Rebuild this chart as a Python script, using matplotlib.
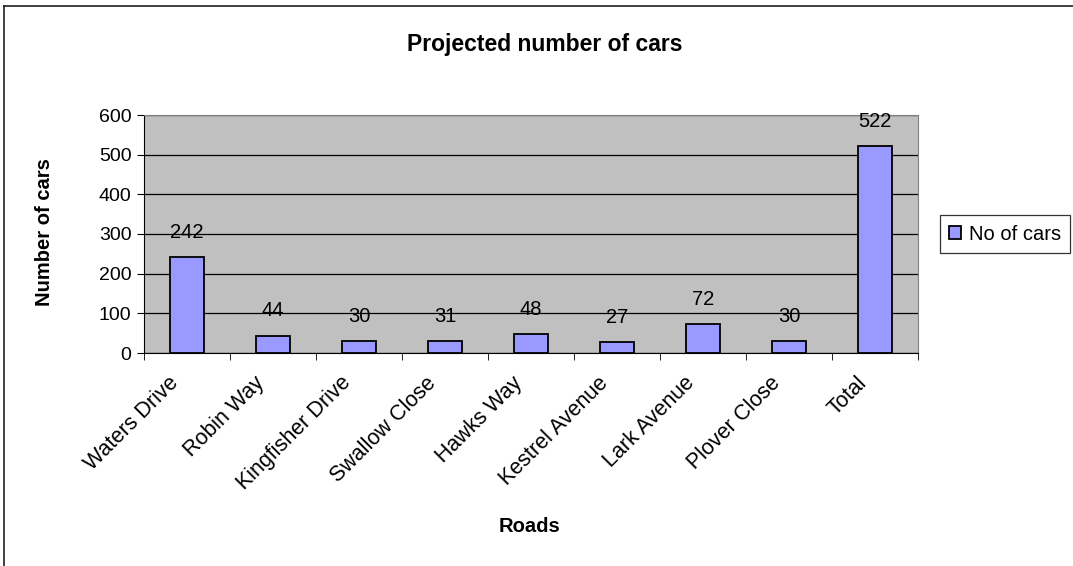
import matplotlib.pyplot as plt
import matplotlib.transforms as mtransforms
import numpy as np

plt.rcParams['font.family'] = ['Liberation Sans', 'DejaVu Sans']

roads = ['Waters Drive', 'Robin Way', 'Kingfisher Drive', 'Swallow Close',
         'Hawks Way', 'Kestrel Avenue', 'Lark Avenue', 'Plover Close', 'Total']
cars = [242, 44, 30, 31, 48, 27, 72, 30, 522]
yticks = [0, 100, 200, 300, 400, 500, 600]

W, H = 1073, 566
fig = plt.figure(figsize=(W / 100, H / 100), dpi=100)
ax = fig.add_axes([144 / W, 1 - 353 / H, 774 / W, 238 / H])

x = np.arange(len(roads))
ax.bar(x, cars, width=0.4, color='#9999FF', edgecolor='black',
       linewidth=1.3, label='No of cars', zorder=3)
for xi, v in zip(x, cars):
    ax.text(xi, v + 38, str(v), ha='center', va='bottom', fontsize=14.5, zorder=4)

ax.set_facecolor('#C0C0C0')
ax.set_xlim(-0.5, len(roads) - 0.5)
ax.set_ylim(0, 600)
ax.set_yticks(yticks)
ax.tick_params(axis='y', labelsize=14, length=5, direction='out', pad=4)
ax.yaxis.grid(True, color='black', linewidth=0.9, zorder=1)

ax.set_xticks(x)
ax.set_xticklabels(roads, rotation=45, ha='right', rotation_mode='anchor', fontsize=15.5)
ax.tick_params(axis='x', length=0, pad=14)
ax.set_xticks(np.arange(-0.5, len(roads)), minor=True)
ax.tick_params(axis='x', which='minor', length=5)
shift = mtransforms.ScaledTranslation(-19 / 100, 0, fig.dpi_scale_trans)
for lbl in ax.get_xticklabels():
    lbl.set_transform(lbl.get_transform() + shift)

for s in ['top', 'right']:
    ax.spines[s].set_color('#808080')
for s in ['left', 'bottom']:
    ax.spines[s].set_color('black')

fig.text(545 / W, 1 - 45 / H, 'Projected number of cars', ha='center', va='center',
         fontsize=16.5, fontweight='bold')
fig.text(45 / W, 1 - 232 / H, 'Number of cars', ha='center', va='center',
         rotation=90, fontsize=14.5, fontweight='bold')
fig.text(530 / W, 1 - 527 / H, 'Roads', ha='center', va='center',
         fontsize=14.5, fontweight='bold')

leg = ax.legend(loc='center left', bbox_to_anchor=(940 / W, 1 - 234 / H),
                bbox_transform=fig.transFigure, borderaxespad=0, fontsize=14.5,
                frameon=True, fancybox=False, edgecolor='black', handlelength=0.6,
                handleheight=0.6, handletextpad=0.4, borderpad=0.45)
leg.get_frame().set_linewidth(0.9)

# outer chart border (only top and left edges fall inside the image)
fig.add_artist(plt.Line2D([4 / W, 4 / W], [0, 1 - 6 / H], color='#202020',
                          linewidth=1.2, transform=fig.transFigure))
fig.add_artist(plt.Line2D([4 / W, 1], [1 - 6 / H, 1 - 6 / H], color='#202020',
                          linewidth=1.2, transform=fig.transFigure))

fig.savefig('out.png', dpi=100)
